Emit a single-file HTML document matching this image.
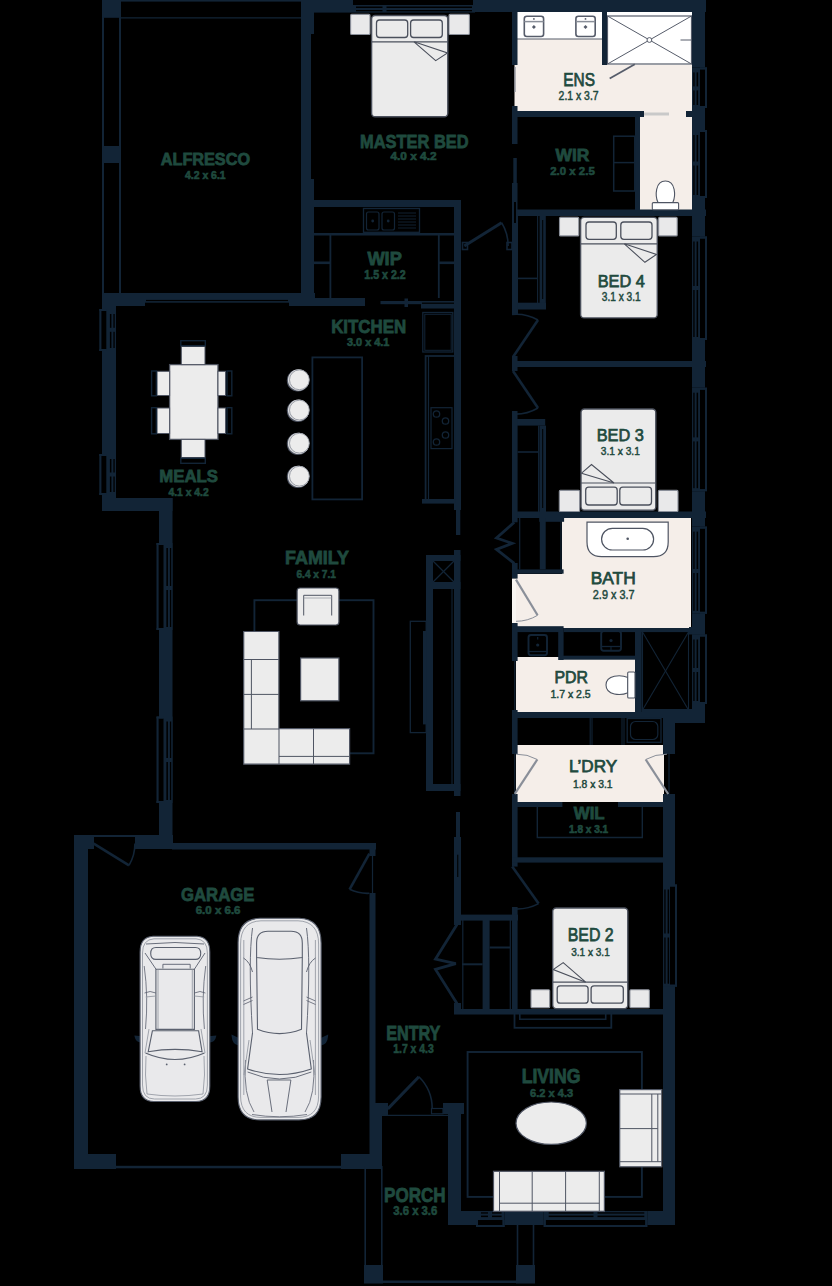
<!DOCTYPE html>
<html><head><meta charset="utf-8"><style>
html,body{margin:0;padding:0;background:#000;}
svg{display:block;font-family:"Liberation Sans",sans-serif;}
</style></head><body>
<svg width="832" height="1286" viewBox="0 0 832 1286">
<rect x="0" y="0" width="832" height="1286" fill="#000"/>
<rect x="517" y="12" width="175" height="100" fill="#f5eee9" />
<rect x="640" y="112" width="52" height="98" fill="#f5eee9" />
<path d="M562,518 H691 V628 H516 V574 H562 Z" fill="#f5eee9"/>
<rect x="516" y="657" width="120" height="55" fill="#f5eee9" />
<rect x="516" y="745" width="148" height="57" fill="#f5eee9" />
<rect x="517" y="12" width="85" height="27" fill="#ffffff" />
<line x1="517" y1="39" x2="602" y2="39" stroke="#565c6a" stroke-width="1.2"/>
<rect x="524.3" y="16.3" width="19.3" height="20.2" rx="2.5" fill="#ffffff" stroke="#565c6a" stroke-width="1.6" />
<line x1="524.3" y1="21.6" x2="543.5999999999999" y2="21.6" stroke="#8a8f99" stroke-width="1.5"/>
<circle cx="533.9" cy="18.9" r="0.9" fill="#565c6a"/>
<rect x="532.5" y="25.7" width="2.8" height="2.8" fill="#565c6a" transform="rotate(45 533.9 27.1)"/>
<rect x="575.9" y="16.3" width="19.3" height="20.2" rx="2.5" fill="#ffffff" stroke="#565c6a" stroke-width="1.6" />
<line x1="575.9" y1="21.6" x2="595.1999999999999" y2="21.6" stroke="#8a8f99" stroke-width="1.5"/>
<circle cx="585.5" cy="18.9" r="0.9" fill="#565c6a"/>
<rect x="584.1" y="25.7" width="2.8" height="2.8" fill="#565c6a" transform="rotate(45 585.5 27.1)"/>
<rect x="607" y="12" width="85" height="53" fill="#ffffff" />
<rect x="607.5" y="16" width="84.0" height="48" rx="0" fill="none" stroke="#565c6a" stroke-width="1.2" />
<line x1="607.5" y1="16" x2="691.5" y2="64" stroke="#565c6a" stroke-width="1"/>
<line x1="607.5" y1="64" x2="691.5" y2="16" stroke="#565c6a" stroke-width="1"/>
<circle cx="649.4" cy="40" r="2.4" fill="#fff" stroke="#565c6a" stroke-width="1"/>
<line x1="680.5" y1="40" x2="691" y2="40" stroke="#565c6a" stroke-width="1"/>
<line x1="609.7" y1="78.5" x2="634.8" y2="64.3" stroke="#565c6a" stroke-width="1.8"/>
<rect x="102" y="0" width="199" height="1.6" fill="#122436" />
<line x1="121" y1="17.8" x2="301" y2="17.8" stroke="#122436" stroke-width="1.3"/>
<line x1="103" y1="0" x2="103" y2="293" stroke="#122436" stroke-width="2"/>
<line x1="120" y1="17" x2="120" y2="293" stroke="#122436" stroke-width="2"/>
<rect x="102" y="0" width="19" height="17.8" fill="#122436" />
<rect x="102" y="146" width="19" height="17" fill="#122436" />
<rect x="301" y="0" width="50" height="12.6" fill="#122436" />
<rect x="351" y="0" width="124" height="12.6" fill="#122436" />
<rect x="353" y="0" width="120" height="5" fill="#000" />
<rect x="351" y="-2" width="124" height="2" fill="#122436" />
<rect x="351" y="-2" width="2" height="7" fill="#122436" />
<rect x="473" y="-2" width="2" height="7" fill="#122436" />
<rect x="356" y="10.0" width="26.5" height="1.3" fill="#000" />
<rect x="356" y="6.5" width="26.5" height="1.5" fill="#000" />
<rect x="386.5" y="10.0" width="85.5" height="1.3" fill="#000" />
<rect x="386.5" y="6.5" width="85.5" height="1.5" fill="#000" />
<rect x="475" y="0" width="231" height="12" fill="#122436" />
<rect x="301" y="12" width="13" height="22" fill="#122436" />
<rect x="301" y="12" width="10" height="168" fill="#122436" />
<rect x="301" y="179" width="13" height="121" fill="#122436" />
<rect x="102" y="293" width="43" height="13" fill="#122436" />
<rect x="289" y="293" width="26" height="13" fill="#122436" />
<rect x="145" y="293" width="144" height="9.7" fill="#122436" />
<rect x="146" y="299.9" width="142" height="1.2" fill="#000" />
<rect x="102" y="293" width="14" height="218" fill="#122436" />
<rect x="101.3" y="309" width="14.7" height="42" fill="#122436" />
<rect x="101.3" y="311" width="5.0" height="38" fill="#000" />
<rect x="99.3" y="309" width="2.0" height="42" fill="#122436" />
<rect x="99.3" y="309" width="7.0" height="2" fill="#122436" />
<rect x="99.3" y="349" width="7.0" height="2" fill="#122436" />
<rect x="113.4" y="314" width="1.3" height="13.8" fill="#000" />
<rect x="109.9" y="314" width="1.5" height="13.8" fill="#000" />
<rect x="113.4" y="331.8" width="1.3" height="16.2" fill="#000" />
<rect x="109.9" y="331.8" width="1.5" height="16.2" fill="#000" />
<rect x="101.3" y="454" width="14.7" height="41" fill="#122436" />
<rect x="101.3" y="456" width="5.0" height="37" fill="#000" />
<rect x="99.3" y="454" width="2.0" height="41" fill="#122436" />
<rect x="99.3" y="454" width="7.0" height="2" fill="#122436" />
<rect x="99.3" y="493" width="7.0" height="2" fill="#122436" />
<rect x="113.4" y="459" width="1.3" height="13.5" fill="#000" />
<rect x="109.9" y="459" width="1.5" height="13.5" fill="#000" />
<rect x="113.4" y="476.5" width="1.3" height="15.5" fill="#000" />
<rect x="109.9" y="476.5" width="1.5" height="15.5" fill="#000" />
<rect x="102" y="498" width="70.5" height="13" fill="#122436" />
<rect x="159" y="498" width="13.5" height="351" fill="#122436" />
<rect x="158.5" y="543" width="14.0" height="87" fill="#122436" />
<rect x="158.5" y="545" width="5.0" height="83" fill="#000" />
<rect x="156.5" y="543" width="2.0" height="87" fill="#122436" />
<rect x="156.5" y="543" width="7.0" height="2" fill="#122436" />
<rect x="156.5" y="628" width="7.0" height="2" fill="#122436" />
<rect x="169.9" y="548" width="1.3" height="38" fill="#000" />
<rect x="166.4" y="548" width="1.5" height="38" fill="#000" />
<rect x="169.9" y="590" width="1.3" height="37" fill="#000" />
<rect x="166.4" y="590" width="1.5" height="37" fill="#000" />
<rect x="158.5" y="716.5" width="14.0" height="86.5" fill="#122436" />
<rect x="158.5" y="718.5" width="5.0" height="82.5" fill="#000" />
<rect x="156.5" y="716.5" width="2.0" height="86.5" fill="#122436" />
<rect x="156.5" y="716.5" width="7.0" height="2.0" fill="#122436" />
<rect x="156.5" y="801" width="7.0" height="2" fill="#122436" />
<rect x="169.9" y="721.5" width="1.3" height="36.5" fill="#000" />
<rect x="166.4" y="721.5" width="1.5" height="36.5" fill="#000" />
<rect x="169.9" y="762" width="1.3" height="38" fill="#000" />
<rect x="166.4" y="762" width="1.5" height="38" fill="#000" />
<rect x="512" y="12" width="5.5" height="53" fill="#122436" />
<rect x="512" y="106" width="5.5" height="38" fill="#122436" />
<rect x="514.5" y="65" width="3.0" height="41" fill="#f5eee9" />
<line x1="515" y1="67" x2="515" y2="92" stroke="#8a8f99" stroke-width="1.3"/>
<rect x="513.3" y="158" width="3.5" height="25" fill="#122436" />
<rect x="512" y="183" width="5.5" height="33" fill="#122436" />
<rect x="512" y="111" width="132" height="6" fill="#122436" />
<rect x="644" y="112.5" width="25" height="3.0" fill="#c9c9c9" />
<rect x="686" y="111" width="6" height="6" fill="#122436" />
<rect x="602" y="12" width="5" height="53" fill="#122436" />
<rect x="635" y="117" width="5" height="93" fill="#122436" />
<rect x="512" y="209.5" width="194" height="6.5" fill="#122436" />
<rect x="692" y="0" width="13" height="67.4" fill="#122436" />
<rect x="692" y="67.4" width="13" height="40.6" fill="#122436" />
<rect x="700" y="69.4" width="5" height="36.6" fill="#000" />
<rect x="705" y="67.4" width="2" height="40.6" fill="#122436" />
<rect x="700" y="67.4" width="7" height="2.0" fill="#122436" />
<rect x="700" y="106" width="7" height="2" fill="#122436" />
<rect x="693.3" y="72.4" width="1.3" height="14.0" fill="#000" />
<rect x="696.6" y="72.4" width="1.5" height="14.0" fill="#000" />
<rect x="693.3" y="90.4" width="1.3" height="14.6" fill="#000" />
<rect x="696.6" y="90.4" width="1.5" height="14.6" fill="#000" />
<rect x="692" y="107" width="13" height="23" fill="#122436" />
<rect x="692" y="130" width="13" height="68" fill="#122436" />
<rect x="700" y="132" width="5" height="64" fill="#000" />
<rect x="705" y="130" width="2" height="68" fill="#122436" />
<rect x="700" y="130" width="7" height="2" fill="#122436" />
<rect x="700" y="196" width="7" height="2" fill="#122436" />
<rect x="693.3" y="135" width="1.3" height="26.5" fill="#000" />
<rect x="696.6" y="135" width="1.5" height="26.5" fill="#000" />
<rect x="693.3" y="165.5" width="1.3" height="29.5" fill="#000" />
<rect x="696.6" y="165.5" width="1.5" height="29.5" fill="#000" />
<rect x="692" y="198" width="13" height="38.5" fill="#122436" />
<rect x="692" y="236.5" width="13" height="103.5" fill="#122436" />
<rect x="700" y="238.5" width="5" height="99.5" fill="#000" />
<rect x="705" y="236.5" width="2" height="103.5" fill="#122436" />
<rect x="700" y="236.5" width="7" height="2.0" fill="#122436" />
<rect x="700" y="338" width="7" height="2" fill="#122436" />
<rect x="693.3" y="241.5" width="1.3" height="44.5" fill="#000" />
<rect x="696.6" y="241.5" width="1.5" height="44.5" fill="#000" />
<rect x="693.3" y="290" width="1.3" height="47" fill="#000" />
<rect x="696.6" y="290" width="1.5" height="47" fill="#000" />
<rect x="692" y="340" width="13" height="47.7" fill="#122436" />
<rect x="692" y="387.7" width="13" height="103.5" fill="#122436" />
<rect x="700" y="389.7" width="5" height="99.5" fill="#000" />
<rect x="705" y="387.7" width="2" height="103.5" fill="#122436" />
<rect x="700" y="387.7" width="7" height="2.0" fill="#122436" />
<rect x="700" y="489.2" width="7" height="2.0" fill="#122436" />
<rect x="693.3" y="392.7" width="1.3" height="44.7" fill="#000" />
<rect x="696.6" y="392.7" width="1.5" height="44.7" fill="#000" />
<rect x="693.3" y="441.4" width="1.3" height="46.8" fill="#000" />
<rect x="696.6" y="441.4" width="1.5" height="46.8" fill="#000" />
<rect x="692" y="491.2" width="13" height="35.4" fill="#122436" />
<rect x="692" y="526.6" width="13" height="87.2" fill="#122436" />
<rect x="700" y="528.6" width="5" height="83.2" fill="#000" />
<rect x="705" y="526.6" width="2" height="87.2" fill="#122436" />
<rect x="700" y="526.6" width="7" height="2.0" fill="#122436" />
<rect x="700" y="611.8" width="7" height="2.0" fill="#122436" />
<rect x="693.3" y="531.6" width="1.3" height="37.4" fill="#000" />
<rect x="696.6" y="531.6" width="1.5" height="37.4" fill="#000" />
<rect x="693.3" y="573" width="1.3" height="37.8" fill="#000" />
<rect x="696.6" y="573" width="1.5" height="37.8" fill="#000" />
<rect x="692" y="613.8" width="13" height="20.7" fill="#122436" />
<rect x="692" y="634.5" width="13" height="69.5" fill="#122436" />
<rect x="700" y="636.5" width="5" height="65.5" fill="#000" />
<rect x="705" y="634.5" width="2" height="69.5" fill="#122436" />
<rect x="700" y="634.5" width="7" height="2.0" fill="#122436" />
<rect x="700" y="702" width="7" height="2" fill="#122436" />
<rect x="693.3" y="639.5" width="1.3" height="28.5" fill="#000" />
<rect x="696.6" y="639.5" width="1.5" height="28.5" fill="#000" />
<rect x="693.3" y="672" width="1.3" height="29" fill="#000" />
<rect x="696.6" y="672" width="1.5" height="29" fill="#000" />
<rect x="689" y="627" width="16" height="7.5" fill="#122436" />
<rect x="692" y="704" width="13" height="19" fill="#122436" />
<rect x="663" y="710" width="42" height="13" fill="#122436" />
<rect x="311" y="200" width="150" height="7" fill="#122436" />
<rect x="454" y="200" width="7" height="310" fill="#122436" />
<rect x="456" y="509" width="4.3" height="26" fill="#122436" />
<rect x="311" y="298" width="54" height="8" fill="#122436" />
<rect x="421" y="301" width="40" height="7.5" fill="#122436" />
<rect x="422" y="302.6" width="32" height="1.2" fill="#000" />
<rect x="380.5" y="301" width="41.1" height="3.2" fill="#122436" />
<rect x="404.5" y="298.5" width="3.5" height="8.5" fill="#122436" />
<rect x="512" y="216" width="6" height="98" fill="#122436" />
<rect x="514" y="361" width="192" height="6" fill="#122436" />
<rect x="512" y="511.5" width="194" height="6.5" fill="#122436" />
<rect x="539.2" y="512" width="24.9" height="9.8" fill="#122436" />
<rect x="512" y="512" width="5.6" height="10.3" fill="#122436" />
<rect x="512" y="563" width="5.6" height="15.6" fill="#122436" />
<line x1="519.7" y1="518" x2="519.7" y2="569.4" stroke="#122436" stroke-width="1.2"/>
<rect x="539.8" y="518" width="5.9" height="51.4" fill="#122436" />
<rect x="512" y="569.4" width="51.6" height="4.3" fill="#122436" />
<line x1="561" y1="518" x2="561" y2="570" stroke="#122436" stroke-width="1.2"/>
<rect x="512" y="578.6" width="4" height="44.4" fill="#f8f5f1" />
<rect x="512" y="623" width="5.6" height="9" fill="#122436" />
<rect x="512" y="626.2" width="51.6" height="5.9" fill="#122436" />
<rect x="563.6" y="628" width="128.4" height="4.1" fill="#122436" />
<rect x="512" y="632" width="5.6" height="29" fill="#122436" />
<line x1="514.8" y1="661" x2="514.8" y2="710" stroke="#122436" stroke-width="1.2"/>
<rect x="512" y="710" width="5.6" height="8" fill="#122436" />
<rect x="558.2" y="632" width="5.4" height="28" fill="#122436" />
<rect x="562" y="655.7" width="74" height="4.0" fill="#122436" />
<rect x="635" y="628" width="6.7" height="90" fill="#122436" />
<line x1="642.5" y1="632" x2="688.5" y2="710" stroke="#122436" stroke-width="1.1"/>
<line x1="688.5" y1="632" x2="642.5" y2="710" stroke="#122436" stroke-width="1.1"/>
<line x1="642.5" y1="632" x2="642.5" y2="710" stroke="#122436" stroke-width="1.1"/>
<line x1="688.5" y1="632" x2="688.5" y2="710" stroke="#122436" stroke-width="1.1"/>
<rect x="641.7" y="709" width="50.3" height="7" fill="#122436" />
<rect x="512" y="712" width="163" height="6" fill="#122436" />
<rect x="512" y="718" width="5.6" height="36" fill="#122436" />
<line x1="514.8" y1="754" x2="514.8" y2="794" stroke="#122436" stroke-width="1.2"/>
<rect x="512" y="794" width="5.6" height="72.6" fill="#122436" />
<rect x="663" y="718" width="12" height="36" fill="#122436" />
<line x1="669" y1="754" x2="669" y2="794" stroke="#122436" stroke-width="1.2"/>
<rect x="663" y="794" width="12" height="431" fill="#122436" />
<rect x="512" y="802" width="50.4" height="5" fill="#122436" />
<rect x="618" y="802" width="57" height="5" fill="#122436" />
<path d="M537.3,807 V837.5 H642.3 V807" fill="none" stroke="#122436" stroke-width="1.4" />
<rect x="512" y="857.3" width="151" height="5.3" fill="#122436" />
<rect x="512" y="907" width="5.6" height="107" fill="#122436" />
<rect x="454" y="914.6" width="64" height="6.0" fill="#122436" />
<rect x="454" y="1003" width="7" height="11" fill="#122436" />
<rect x="482.6" y="920" width="7.0" height="89" fill="#122436" />
<line x1="462.8" y1="920" x2="462.8" y2="1009" stroke="#122436" stroke-width="1.2"/>
<line x1="510.3" y1="920" x2="510.3" y2="1009" stroke="#122436" stroke-width="1.2"/>
<line x1="462" y1="964.3" x2="482.6" y2="964.3" stroke="#122436" stroke-width="2"/>
<line x1="489.6" y1="947.5" x2="510" y2="947.5" stroke="#122436" stroke-width="2"/>
<rect x="454" y="1009" width="221" height="5.5" fill="#122436" />
<rect x="514.5" y="1013" width="96.8" height="14.8" rx="0" fill="none" stroke="#122436" stroke-width="1.8" />
<path d="M519.8,1014 V1019.2 H605.7 V1014" fill="none" stroke="#122436" stroke-width="1.6" />
<rect x="456" y="812" width="4" height="25.5" fill="#122436" />
<rect x="454" y="837" width="7" height="88" fill="#122436" />
<rect x="457.2" y="854.7" width="1.1" height="22.3" fill="#000" />
<rect x="426" y="555" width="7" height="236" fill="#122436" />
<rect x="454" y="550" width="6.5" height="246" fill="#122436" />
<rect x="426" y="555" width="34.5" height="6" fill="#122436" />
<rect x="426" y="582" width="34.5" height="7" fill="#122436" />
<rect x="426" y="784" width="34.5" height="7" fill="#122436" />
<line x1="433" y1="561" x2="454" y2="582" stroke="#122436" stroke-width="1.2"/>
<line x1="454" y1="561" x2="433" y2="582" stroke="#122436" stroke-width="1.2"/>
<line x1="452" y1="589" x2="452" y2="784" stroke="#122436" stroke-width="1.1"/>
<rect x="410.3" y="621.3" width="15.9" height="111.3" rx="0" fill="none" stroke="#122436" stroke-width="1.3" />
<rect x="423" y="631" width="3.5" height="93.4" fill="#122436" />
<rect x="74" y="835" width="14" height="334" fill="#122436" />
<rect x="74" y="835" width="20" height="14" fill="#122436" />
<rect x="94" y="835" width="41" height="2" fill="#122436" />
<rect x="135" y="835" width="38" height="14" fill="#122436" />
<rect x="172" y="843" width="204" height="6.5" fill="#122436" />
<rect x="369.5" y="843" width="6.0" height="13" fill="#122436" />
<line x1="372.5" y1="856" x2="372.5" y2="893" stroke="#122436" stroke-width="1.2"/>
<rect x="369.5" y="893" width="6.0" height="210" fill="#122436" />
<rect x="369.5" y="1103" width="12.5" height="63" fill="#122436" />
<rect x="375.5" y="1103" width="12.5" height="12" fill="#122436" />
<rect x="74" y="1154" width="42" height="15" fill="#122436" />
<rect x="341" y="1154" width="41" height="15" fill="#122436" />
<rect x="116" y="1165.8" width="225" height="2.5" fill="#122436" />
<rect x="443" y="1103" width="21" height="11" fill="#122436" />
<rect x="431.5" y="1108.5" width="11.5" height="5.3" rx="0" fill="none" stroke="#122436" stroke-width="1.2" />
<rect x="448" y="1103" width="13" height="122" fill="#122436" />
<line x1="382" y1="1115.3" x2="449" y2="1115.3" stroke="#122436" stroke-width="1.2"/>
<line x1="365.2" y1="1166" x2="365.2" y2="1266" stroke="#122436" stroke-width="1.6"/>
<line x1="381.8" y1="1166" x2="381.8" y2="1266" stroke="#122436" stroke-width="1.6"/>
<rect x="364" y="1265" width="19" height="18.5" fill="#122436" />
<rect x="382" y="1280.5" width="135" height="2.5" fill="#122436" />
<line x1="517.5" y1="1225" x2="517.5" y2="1266" stroke="#122436" stroke-width="1.6"/>
<line x1="533.5" y1="1225" x2="533.5" y2="1266" stroke="#122436" stroke-width="1.6"/>
<rect x="516" y="1265" width="19" height="18.5" fill="#122436" />
<rect x="448" y="1211" width="28" height="14" fill="#122436" />
<rect x="476" y="1211" width="28.6" height="14" fill="#122436" />
<rect x="478" y="1220" width="24.6" height="5" fill="#000" />
<rect x="476" y="1225" width="28.6" height="2" fill="#122436" />
<rect x="476" y="1220" width="2" height="7" fill="#122436" />
<rect x="502.6" y="1220" width="2.0" height="7" fill="#122436" />
<rect x="481" y="1212.3" width="7" height="1.3" fill="#000" />
<rect x="481" y="1215.6" width="7" height="1.5" fill="#000" />
<rect x="492" y="1212.3" width="9.6" height="1.3" fill="#000" />
<rect x="492" y="1215.6" width="9.6" height="1.5" fill="#000" />
<rect x="504.6" y="1211" width="39.1" height="14" fill="#122436" />
<rect x="543.7" y="1211" width="103.6" height="14" fill="#122436" />
<rect x="545.7" y="1220" width="99.6" height="5" fill="#000" />
<rect x="543.7" y="1225" width="103.6" height="2" fill="#122436" />
<rect x="543.7" y="1220" width="2.0" height="7" fill="#122436" />
<rect x="645.3" y="1220" width="2.0" height="7" fill="#122436" />
<rect x="548.7" y="1212.3" width="44.8" height="1.3" fill="#000" />
<rect x="548.7" y="1215.6" width="44.8" height="1.5" fill="#000" />
<rect x="597.5" y="1212.3" width="46.8" height="1.3" fill="#000" />
<rect x="597.5" y="1215.6" width="46.8" height="1.5" fill="#000" />
<rect x="647.3" y="1211" width="27.7" height="14" fill="#122436" />
<rect x="350.6" y="14.4" width="19.4" height="20.1" rx="1" fill="#e9e9ea" stroke="#8a8f99" stroke-width="1.1" />
<rect x="449" y="14.4" width="20.4" height="20.1" rx="1" fill="#e9e9ea" stroke="#8a8f99" stroke-width="1.1" />
<rect x="371.6" y="15.5" width="76.2" height="101.3" rx="3.5" fill="#ebebeb" stroke="#4b505c" stroke-width="1.4" />
<rect x="376.5" y="20" width="31.2" height="17.5" rx="3" fill="#ebebeb" stroke="#4b505c" stroke-width="1.3" />
<rect x="410.6" y="20" width="31.7" height="17.5" rx="3" fill="#ebebeb" stroke="#4b505c" stroke-width="1.3" />
<line x1="371.6" y1="41.8" x2="447.8" y2="41.8" stroke="#4b505c" stroke-width="1.2"/>
<polygon points="414,41.8 447.5,53 435.7,60.6" fill="#ebebeb" stroke="#4b505c" stroke-width="1.1"/>
<rect x="559.5" y="217.4" width="19.3" height="18.5" rx="1" fill="#e9e9ea" stroke="#8a8f99" stroke-width="1.1" />
<rect x="658.6" y="217.4" width="18.6" height="18.5" rx="1" fill="#e9e9ea" stroke="#8a8f99" stroke-width="1.1" />
<rect x="580.6" y="217.4" width="76.7" height="100.5" rx="3.5" fill="#ebebeb" stroke="#4b505c" stroke-width="1.4" />
<rect x="586" y="222" width="30.3" height="17.3" rx="3" fill="#ebebeb" stroke="#4b505c" stroke-width="1.3" />
<rect x="620.8" y="222" width="31.2" height="17.3" rx="3" fill="#ebebeb" stroke="#4b505c" stroke-width="1.3" />
<line x1="580.6" y1="243.8" x2="657.3" y2="243.8" stroke="#4b505c" stroke-width="1.2"/>
<polygon points="624.3,243.8 656.5,254.4 644.9,262.3" fill="#ebebeb" stroke="#4b505c" stroke-width="1.1"/>
<rect x="559.3" y="490.4" width="20.3" height="21.1" rx="1" fill="#e9e9ea" stroke="#8a8f99" stroke-width="1.1" />
<rect x="658.4" y="490.4" width="19.6" height="21.1" rx="1" fill="#e9e9ea" stroke="#8a8f99" stroke-width="1.1" />
<rect x="581" y="409" width="74.8" height="101.2" rx="3.5" fill="#ebebeb" stroke="#4b505c" stroke-width="1.4" />
<rect x="585.7" y="487.2" width="31.5" height="17.8" rx="3" fill="#ebebeb" stroke="#4b505c" stroke-width="1.3" />
<rect x="619.8" y="487.2" width="31.7" height="17.8" rx="3" fill="#ebebeb" stroke="#4b505c" stroke-width="1.3" />
<line x1="581" y1="483" x2="655.8" y2="483" stroke="#4b505c" stroke-width="1.2"/>
<polygon points="614,483 581.5,473.2 591.5,464.5" fill="#ebebeb" stroke="#4b505c" stroke-width="1.1"/>
<rect x="531" y="989.7" width="18.7" height="18.0" rx="1" fill="#e9e9ea" stroke="#8a8f99" stroke-width="1.1" />
<rect x="629.9" y="989.7" width="19.5" height="18.0" rx="1" fill="#e9e9ea" stroke="#8a8f99" stroke-width="1.1" />
<rect x="552.7" y="908" width="75.1" height="100.6" rx="3.5" fill="#ebebeb" stroke="#4b505c" stroke-width="1.4" />
<rect x="557.2" y="985.8" width="30.9" height="17.4" rx="3" fill="#ebebeb" stroke="#4b505c" stroke-width="1.3" />
<rect x="591.1" y="985.8" width="32.2" height="17.4" rx="3" fill="#ebebeb" stroke="#4b505c" stroke-width="1.3" />
<line x1="552.7" y1="982.2" x2="627.8" y2="982.2" stroke="#4b505c" stroke-width="1.2"/>
<polygon points="585.7,982.2 553.2,969.5 563.2,962.6" fill="#ebebeb" stroke="#4b505c" stroke-width="1.1"/>
<rect x="169.6" y="364.6" width="48.4" height="74.8" rx="0" fill="#ececec" stroke="#4b505c" stroke-width="1.3" />
<rect x="181.3" y="346.5" width="23.7" height="18.1" rx="0" fill="#ececec" stroke="#4f5563" stroke-width="1.0" />
<rect x="181.3" y="439.4" width="23.7" height="18.1" rx="0" fill="#ececec" stroke="#4f5563" stroke-width="1.0" />
<rect x="157" y="371.3" width="12.6" height="24.2" rx="0" fill="#ececec" stroke="#4f5563" stroke-width="1.0" />
<rect x="157" y="408" width="12.6" height="25.5" rx="0" fill="#ececec" stroke="#4f5563" stroke-width="1.0" />
<rect x="218" y="371.3" width="7.5" height="24.2" rx="0" fill="#ececec" stroke="#4f5563" stroke-width="1.0" />
<rect x="218" y="408" width="7.5" height="25.5" rx="0" fill="#ececec" stroke="#4f5563" stroke-width="1.0" />
<rect x="180.8" y="340.7" width="24.5" height="5.0" rx="0" fill="none" stroke="#122436" stroke-width="1.4" />
<rect x="180.8" y="458.3" width="24.5" height="5.0" rx="0" fill="none" stroke="#122436" stroke-width="1.4" />
<rect x="151.6" y="371" width="4.8" height="24.8" rx="0" fill="none" stroke="#122436" stroke-width="1.4" />
<rect x="151.6" y="407.7" width="4.8" height="26.1" rx="0" fill="none" stroke="#122436" stroke-width="1.4" />
<rect x="227" y="371" width="4.8" height="24.8" rx="0" fill="none" stroke="#122436" stroke-width="1.4" />
<rect x="227" y="407.7" width="4.8" height="26.1" rx="0" fill="none" stroke="#122436" stroke-width="1.4" />
<circle cx="297.9" cy="380.5" r="11.1" fill="#4f5563"/>
<circle cx="298.6" cy="380" r="10.7" fill="#d9dadd"/>
<circle cx="299.4" cy="379.8" r="9.9" fill="#ececec" stroke="#8a8f99" stroke-width="0.8"/>
<circle cx="297.9" cy="410.8" r="11.1" fill="#4f5563"/>
<circle cx="298.6" cy="410.3" r="10.7" fill="#d9dadd"/>
<circle cx="299.4" cy="410.1" r="9.9" fill="#ececec" stroke="#8a8f99" stroke-width="0.8"/>
<circle cx="297.9" cy="443.9" r="11.1" fill="#4f5563"/>
<circle cx="298.6" cy="443.4" r="10.7" fill="#d9dadd"/>
<circle cx="299.4" cy="443.2" r="9.9" fill="#ececec" stroke="#8a8f99" stroke-width="0.8"/>
<circle cx="297.9" cy="476.9" r="11.1" fill="#4f5563"/>
<circle cx="298.6" cy="476.4" r="10.7" fill="#d9dadd"/>
<circle cx="299.4" cy="476.2" r="9.9" fill="#ececec" stroke="#8a8f99" stroke-width="0.8"/>
<rect x="312.4" y="357.4" width="49.7" height="142.0" rx="0" fill="none" stroke="#122436" stroke-width="1.8" />
<rect x="422.8" y="312.5" width="30.0" height="39.5" rx="0" fill="none" stroke="#122436" stroke-width="1.3" />
<rect x="424.8" y="314.3" width="26.4" height="36.0" rx="0" fill="none" stroke="#122436" stroke-width="1.0" />
<rect x="425.6" y="356" width="29.4" height="145.5" rx="0" fill="none" stroke="#122436" stroke-width="1.8" />
<line x1="428.5" y1="356" x2="428.5" y2="500" stroke="#122436" stroke-width="1.2"/>
<rect x="431" y="407.7" width="21" height="40.9" rx="0" fill="none" stroke="#122436" stroke-width="1.2" />
<circle cx="436.5" cy="414" r="3.2" fill="none" stroke="#122436" stroke-width="1.3"/>
<circle cx="445.5" cy="421" r="3.2" fill="none" stroke="#122436" stroke-width="1.3"/>
<circle cx="445.5" cy="435" r="3.2" fill="none" stroke="#122436" stroke-width="1.3"/>
<circle cx="436.5" cy="442" r="3.2" fill="none" stroke="#122436" stroke-width="1.3"/>
<rect x="422" y="499" width="33" height="4.6" fill="#122436" />
<line x1="314" y1="234.3" x2="455" y2="234.3" stroke="#122436" stroke-width="2.6"/>
<rect x="363.5" y="208.5" width="56.0" height="23.8" rx="0" fill="none" stroke="#122436" stroke-width="1.3" />
<rect x="366.5" y="212" width="12.5" height="18" rx="2" fill="none" stroke="#122436" stroke-width="1.2" />
<rect x="382" y="212" width="12.5" height="18" rx="2" fill="none" stroke="#122436" stroke-width="1.2" />
<circle cx="372.7" cy="221" r="1.4" fill="#122436"/><circle cx="388.2" cy="221" r="1.4" fill="#122436"/>
<line x1="398" y1="213" x2="416" y2="213" stroke="#122436" stroke-width="0.9"/>
<line x1="398" y1="216" x2="416" y2="216" stroke="#122436" stroke-width="0.9"/>
<line x1="398" y1="219" x2="416" y2="219" stroke="#122436" stroke-width="0.9"/>
<line x1="398" y1="222" x2="416" y2="222" stroke="#122436" stroke-width="0.9"/>
<line x1="398" y1="225" x2="416" y2="225" stroke="#122436" stroke-width="0.9"/>
<line x1="398" y1="228" x2="416" y2="228" stroke="#122436" stroke-width="0.9"/>
<line x1="330.4" y1="233.6" x2="330.4" y2="298" stroke="#122436" stroke-width="1.8"/>
<line x1="314" y1="262.8" x2="330.4" y2="262.8" stroke="#122436" stroke-width="2.6"/>
<line x1="438.8" y1="233.6" x2="438.8" y2="298" stroke="#122436" stroke-width="1.8"/>
<line x1="438.8" y1="262.8" x2="455" y2="262.8" stroke="#122436" stroke-width="2.6"/>
<rect x="254.4" y="600.2" width="119.1" height="153.1" rx="0" fill="none" stroke="#122436" stroke-width="1.9" />
<rect x="297.1" y="588" width="41.8" height="37" rx="3" fill="#ececec" stroke="#4f5563" stroke-width="1.2" />
<line x1="303.7" y1="595.3" x2="331.7" y2="595.3" stroke="#4f5563" stroke-width="1.0"/>
<line x1="303.7" y1="595.3" x2="303.7" y2="615.5" stroke="#4f5563" stroke-width="1.0"/>
<line x1="331.7" y1="595.3" x2="331.7" y2="615.5" stroke="#4f5563" stroke-width="1.0"/>
<line x1="303.7" y1="598" x2="331.7" y2="598" stroke="#9a9ea6" stroke-width="0.8"/>
<path d="M243.7,631.5 H278.9 V728.7 H349.6 V764.2 H243.7 Z" fill="#ececec" stroke="#4f5563" stroke-width="1.2"/>
<line x1="243.7" y1="659.5" x2="278.9" y2="659.5" stroke="#4f5563" stroke-width="1.0"/>
<line x1="243.7" y1="694.4" x2="278.9" y2="694.4" stroke="#4f5563" stroke-width="1.0"/>
<line x1="243.7" y1="729" x2="278.9" y2="729" stroke="#4f5563" stroke-width="1.0"/>
<line x1="251.4" y1="659.5" x2="251.4" y2="729" stroke="#4f5563" stroke-width="1.0"/>
<line x1="279" y1="729" x2="279" y2="764.2" stroke="#4f5563" stroke-width="1.0"/>
<line x1="313.5" y1="729" x2="313.5" y2="764.2" stroke="#4f5563" stroke-width="1.0"/>
<line x1="279" y1="756.4" x2="349.6" y2="756.4" stroke="#4f5563" stroke-width="1.0"/>
<rect x="300.6" y="658" width="38.3" height="42.8" rx="0" fill="#ececec" stroke="#4f5563" stroke-width="1.2" />
<rect x="467.6" y="1052" width="174.3" height="144.9" rx="0" fill="none" stroke="#122436" stroke-width="1.9" />
<ellipse cx="551.2" cy="1123.2" rx="35.2" ry="21.2" fill="#ececec" stroke="#4f5563" stroke-width="1.2"/>
<rect x="493.5" y="1171.3" width="110.9" height="40.0" rx="0" fill="#ececec" stroke="#4f5563" stroke-width="1.2" />
<line x1="499.5" y1="1171.3" x2="499.5" y2="1211.3" stroke="#4f5563" stroke-width="1.0"/>
<line x1="599.3" y1="1171.3" x2="599.3" y2="1211.3" stroke="#4f5563" stroke-width="1.0"/>
<line x1="532.2" y1="1171.3" x2="532.2" y2="1211.3" stroke="#4f5563" stroke-width="1.0"/>
<line x1="565.6" y1="1171.3" x2="565.6" y2="1211.3" stroke="#4f5563" stroke-width="1.0"/>
<line x1="499.5" y1="1203.2" x2="599.3" y2="1203.2" stroke="#4f5563" stroke-width="1.0"/>
<rect x="619.7" y="1089.6" width="42.1" height="77.2" rx="0" fill="#ececec" stroke="#4f5563" stroke-width="1.2" />
<line x1="619.7" y1="1094" x2="661.8" y2="1094" stroke="#4f5563" stroke-width="1.0"/>
<line x1="619.7" y1="1161.7" x2="661.8" y2="1161.7" stroke="#4f5563" stroke-width="1.0"/>
<line x1="651.8" y1="1094" x2="651.8" y2="1161.7" stroke="#4f5563" stroke-width="1.0"/>
<line x1="657.8" y1="1094" x2="657.8" y2="1161.7" stroke="#4f5563" stroke-width="1.0"/>
<line x1="619.7" y1="1128.6" x2="657.8" y2="1128.6" stroke="#4f5563" stroke-width="1.0"/>
<path d="M587,522.2 H668.2 V542 Q668.2,556.6 653.6,556.6 H601.6 Q587,556.6 587,542 Z" fill="#fff" stroke="#4f5563" stroke-width="1.2"/>
<rect x="601.6" y="528.3" width="52.0" height="21.7" rx="10.8" fill="#fff" stroke="#4f5563" stroke-width="1.2" />
<circle cx="627.7" cy="538.8" r="1.3" fill="#4f5563"/>
<path d="M658,202.6 C655,196 655,181 665.4,181 C675.8,181 675.8,196 672.8,202.6 Z" fill="#fff" stroke="#4f5563" stroke-width="1.1"/>
<rect x="652.3" y="202.6" width="26.3" height="7.2" rx="1" fill="#fff" stroke="#4f5563" stroke-width="1.1" />
<path d="M628,677.5 C621,674.5 606,674.5 606,685.1 C606,695.7 621,695.7 628,692.7 Z" fill="#fff" stroke="#4f5563" stroke-width="1.1"/>
<rect x="627.7" y="672" width="7.3" height="26" rx="1" fill="#fff" stroke="#4f5563" stroke-width="1.1" />
<rect x="528.5" y="635" width="18.5" height="20.3" rx="2.5" fill="none" stroke="#122436" stroke-width="1.9" />
<line x1="528.5" y1="651.5" x2="547" y2="651.5" stroke="#122436" stroke-width="1.3"/>
<circle cx="537.7" cy="645" r="1.6" fill="#122436"/>
<line x1="537.7" y1="637" x2="537.7" y2="639.5" stroke="#122436" stroke-width="1.2"/>
<rect x="601.2" y="631" width="19.8" height="19.8" rx="2.5" fill="none" stroke="#122436" stroke-width="1.9" />
<line x1="601.2" y1="646.5" x2="621" y2="646.5" stroke="#122436" stroke-width="1.3"/>
<circle cx="611" cy="640.5" r="1.6" fill="#122436"/>
<line x1="611" y1="647" x2="611" y2="650" stroke="#122436" stroke-width="1.1"/>
<line x1="590.2" y1="718" x2="590.2" y2="745" stroke="#122436" stroke-width="1.1"/>
<line x1="592" y1="718" x2="592" y2="745" stroke="#122436" stroke-width="1.1"/>
<line x1="622" y1="718" x2="622" y2="745" stroke="#122436" stroke-width="1.1"/>
<line x1="624" y1="718" x2="624" y2="745" stroke="#122436" stroke-width="1.1"/>
<rect x="627.2" y="718.5" width="33.8" height="23.8" rx="0" fill="none" stroke="#122436" stroke-width="1.3" />
<rect x="630.5" y="721.5" width="27.3" height="18.0" rx="5" fill="none" stroke="#122436" stroke-width="1.2" />
<text x="205.4" y="165.3" font-size="16.8" text-anchor="middle" textLength="89.3" lengthAdjust="spacingAndGlyphs" fill="#1f4a3e" font-weight="bold" stroke="#1f4a3e" stroke-width="0.8">ALFRESCO</text>
<text x="205.3" y="179" font-size="10.2" text-anchor="middle" textLength="40.6" lengthAdjust="spacingAndGlyphs" fill="#1f4a3e" font-weight="bold" stroke="#1f4a3e" stroke-width="0.6">4.2 x 6.1</text>
<text x="414.3" y="147.6" font-size="18.9" text-anchor="middle" textLength="108.6" lengthAdjust="spacingAndGlyphs" fill="#1f4a3e" font-weight="bold" stroke="#1f4a3e" stroke-width="0.8">MASTER BED</text>
<text x="413.5" y="160.3" font-size="10.6" text-anchor="middle" textLength="46.2" lengthAdjust="spacingAndGlyphs" fill="#1f4a3e" font-weight="bold" stroke="#1f4a3e" stroke-width="0.6">4.0 x 4.2</text>
<text x="579.2" y="85.9" font-size="17.6" text-anchor="middle" textLength="31.7" lengthAdjust="spacingAndGlyphs" fill="#1f4a3e" font-weight="normal" stroke="#1f4a3e" stroke-width="0.75">ENS</text>
<text x="578.6" y="100" font-size="12" text-anchor="middle" textLength="40" lengthAdjust="spacingAndGlyphs" fill="#1f4a3e" font-weight="normal" stroke="#1f4a3e" stroke-width="0.5">2.1 x 3.7</text>
<text x="572.5" y="160.5" font-size="17.3" text-anchor="middle" textLength="33.9" lengthAdjust="spacingAndGlyphs" fill="#1f4a3e" font-weight="bold" stroke="#1f4a3e" stroke-width="0.8">WIR</text>
<text x="572.5" y="175" font-size="11.4" text-anchor="middle" textLength="44.5" lengthAdjust="spacingAndGlyphs" fill="#1f4a3e" font-weight="bold" stroke="#1f4a3e" stroke-width="0.6">2.0 x 2.5</text>
<text x="384.6" y="264.6" font-size="18" text-anchor="middle" textLength="34.4" lengthAdjust="spacingAndGlyphs" fill="#1f4a3e" font-weight="bold" stroke="#1f4a3e" stroke-width="0.8">WIP</text>
<text x="385" y="278.6" font-size="12" text-anchor="middle" textLength="41.5" lengthAdjust="spacingAndGlyphs" fill="#1f4a3e" font-weight="bold" stroke="#1f4a3e" stroke-width="0.6">1.5 x 2.2</text>
<text x="368.7" y="332.6" font-size="17.6" text-anchor="middle" textLength="75" lengthAdjust="spacingAndGlyphs" fill="#1f4a3e" font-weight="bold" stroke="#1f4a3e" stroke-width="0.8">KITCHEN</text>
<text x="368.2" y="346.3" font-size="10.6" text-anchor="middle" textLength="42.4" lengthAdjust="spacingAndGlyphs" fill="#1f4a3e" font-weight="bold" stroke="#1f4a3e" stroke-width="0.6">3.0 x 4.1</text>
<text x="188.6" y="481.7" font-size="17.3" text-anchor="middle" textLength="58.7" lengthAdjust="spacingAndGlyphs" fill="#1f4a3e" font-weight="bold" stroke="#1f4a3e" stroke-width="0.8">MEALS</text>
<text x="188.6" y="496.2" font-size="10.7" text-anchor="middle" textLength="40.2" lengthAdjust="spacingAndGlyphs" fill="#1f4a3e" font-weight="bold" stroke="#1f4a3e" stroke-width="0.6">4.1 x 4.2</text>
<text x="621.3" y="287.4" font-size="17.3" text-anchor="middle" textLength="47.1" lengthAdjust="spacingAndGlyphs" fill="#1f4a3e" font-weight="normal" stroke="#1f4a3e" stroke-width="0.75">BED 4</text>
<text x="621.2" y="301.2" font-size="12.2" text-anchor="middle" textLength="38.9" lengthAdjust="spacingAndGlyphs" fill="#1f4a3e" font-weight="normal" stroke="#1f4a3e" stroke-width="0.5">3.1 x 3.1</text>
<text x="620.3" y="441" font-size="17.3" text-anchor="middle" textLength="47.1" lengthAdjust="spacingAndGlyphs" fill="#1f4a3e" font-weight="normal" stroke="#1f4a3e" stroke-width="0.75">BED 3</text>
<text x="620.3" y="454.7" font-size="11.8" text-anchor="middle" textLength="39.1" lengthAdjust="spacingAndGlyphs" fill="#1f4a3e" font-weight="normal" stroke="#1f4a3e" stroke-width="0.5">3.1 x 3.1</text>
<text x="613.2" y="583.8" font-size="16.6" text-anchor="middle" textLength="45" lengthAdjust="spacingAndGlyphs" fill="#1f4a3e" font-weight="normal" stroke="#1f4a3e" stroke-width="0.75">BATH</text>
<text x="613.7" y="598.9" font-size="13" text-anchor="middle" textLength="41.8" lengthAdjust="spacingAndGlyphs" fill="#1f4a3e" font-weight="normal" stroke="#1f4a3e" stroke-width="0.5">2.9 x 3.7</text>
<text x="571.2" y="682.7" font-size="16.1" text-anchor="middle" textLength="33.5" lengthAdjust="spacingAndGlyphs" fill="#1f4a3e" font-weight="normal" stroke="#1f4a3e" stroke-width="0.75">PDR</text>
<text x="570.6" y="697.5" font-size="11.5" text-anchor="middle" textLength="40.2" lengthAdjust="spacingAndGlyphs" fill="#1f4a3e" font-weight="normal" stroke="#1f4a3e" stroke-width="0.5">1.7 x 2.5</text>
<text x="593.1" y="772" font-size="17" text-anchor="middle" textLength="48.2" lengthAdjust="spacingAndGlyphs" fill="#1f4a3e" font-weight="normal" stroke="#1f4a3e" stroke-width="0.75">L&#8217;DRY</text>
<text x="592.8" y="787.8" font-size="11.5" text-anchor="middle" textLength="39.7" lengthAdjust="spacingAndGlyphs" fill="#1f4a3e" font-weight="normal" stroke="#1f4a3e" stroke-width="0.5">1.8 x 3.1</text>
<text x="589.2" y="819" font-size="17.4" text-anchor="middle" textLength="30.9" lengthAdjust="spacingAndGlyphs" fill="#1f4a3e" font-weight="bold" stroke="#1f4a3e" stroke-width="0.8">WIL</text>
<text x="588.6" y="832.7" font-size="10.3" text-anchor="middle" textLength="39.2" lengthAdjust="spacingAndGlyphs" fill="#1f4a3e" font-weight="bold" stroke="#1f4a3e" stroke-width="0.6">1.8 x 3.1</text>
<text x="317" y="564.1" font-size="18.9" text-anchor="middle" textLength="64" lengthAdjust="spacingAndGlyphs" fill="#1f4a3e" font-weight="bold" stroke="#1f4a3e" stroke-width="0.8">FAMILY</text>
<text x="316.2" y="578" font-size="11.3" text-anchor="middle" textLength="39.5" lengthAdjust="spacingAndGlyphs" fill="#1f4a3e" font-weight="bold" stroke="#1f4a3e" stroke-width="0.6">6.4 x 7.1</text>
<text x="217.7" y="901.2" font-size="19" text-anchor="middle" textLength="73.4" lengthAdjust="spacingAndGlyphs" fill="#1f4a3e" font-weight="bold" stroke="#1f4a3e" stroke-width="0.8">GARAGE</text>
<text x="218.1" y="913.9" font-size="10.9" text-anchor="middle" textLength="44.8" lengthAdjust="spacingAndGlyphs" fill="#1f4a3e" font-weight="bold" stroke="#1f4a3e" stroke-width="0.6">6.0 x 6.6</text>
<text x="590.7" y="940.7" font-size="18.4" text-anchor="middle" textLength="46" lengthAdjust="spacingAndGlyphs" fill="#1f4a3e" font-weight="normal" stroke="#1f4a3e" stroke-width="0.75">BED 2</text>
<text x="590.5" y="955.7" font-size="11.7" text-anchor="middle" textLength="38.5" lengthAdjust="spacingAndGlyphs" fill="#1f4a3e" font-weight="normal" stroke="#1f4a3e" stroke-width="0.5">3.1 x 3.1</text>
<text x="413.3" y="1040" font-size="19.3" text-anchor="middle" textLength="54.2" lengthAdjust="spacingAndGlyphs" fill="#1f4a3e" font-weight="bold" stroke="#1f4a3e" stroke-width="0.8">ENTRY</text>
<text x="413.5" y="1052.9" font-size="12.3" text-anchor="middle" textLength="40.5" lengthAdjust="spacingAndGlyphs" fill="#1f4a3e" font-weight="bold" stroke="#1f4a3e" stroke-width="0.6">1.7 x 4.3</text>
<text x="551.1" y="1082.7" font-size="19.7" text-anchor="middle" textLength="58.9" lengthAdjust="spacingAndGlyphs" fill="#1f4a3e" font-weight="bold" stroke="#1f4a3e" stroke-width="0.8">LIVING</text>
<text x="551.6" y="1097" font-size="11.6" text-anchor="middle" textLength="43" lengthAdjust="spacingAndGlyphs" fill="#1f4a3e" font-weight="bold" stroke="#1f4a3e" stroke-width="0.6">6.2 x 4.3</text>
<text x="414.8" y="1202.2" font-size="19.3" text-anchor="middle" textLength="61.6" lengthAdjust="spacingAndGlyphs" fill="#1f4a3e" font-weight="bold" stroke="#1f4a3e" stroke-width="0.8">PORCH</text>
<text x="415.3" y="1215.1" font-size="12.2" text-anchor="middle" textLength="44" lengthAdjust="spacingAndGlyphs" fill="#1f4a3e" font-weight="bold" stroke="#1f4a3e" stroke-width="0.6">3.6 x 3.6</text>
<path d="M135.5,1036.5 Q136.5,1041.5 141,1041.5 L141,1037 Z M215.2,1036.5 Q214.2,1041.5 209.7,1041.5 L209.7,1037 Z" fill="#122436" stroke="#122436" stroke-width="1.8"/>
<path d="M153,936.3 H197 Q209.8,937 209.8,952 V1086 Q209.8,1101.5 196,1101.5 H154 Q140.1,1101.5 140.1,1086 V952 Q140.1,937 153,936.3 Z" fill="#e9e9eb" stroke="#5a606e" stroke-width="1.1"/>
<path d="M154,938.8 H196 Q207.4,939.5 207.4,953 V1085 Q207.4,1099 195.5,1099 H154.5 Q142.5,1099 142.5,1085 V953 Q142.5,939.5 154,938.8 Z" fill="none" stroke="#8d929c" stroke-width="0.8"/>
<path d="M156,947.5 H195.4 Q200.7,947.5 200.7,953.4 Q200.7,959.4 195.4,959.4 H156 Q150.7,959.4 150.7,953.4 Q150.7,947.5 156,947.5 Z" fill="none" stroke="#5a606e" stroke-width="1.1"/>
<path d="M145,953 L156,969.2 M205,953 L194.4,969.2 M162.9,968.5 V964.3 H190.2 V968.5 M146,944 Q175,941 204,944" fill="none" stroke="#5a606e" stroke-width="0.9"/>
<path d="M155.9,969.2 H194.4 V1029.4 H155.9 Z" fill="none" stroke="#5a606e" stroke-width="1.1"/>
<path d="M158,969.2 V1029.4 M192.3,969.2 V1029.4" fill="none" stroke="#8d929c" stroke-width="0.8"/>
<path d="M144.2,966 Q148.5,997 145.5,1029 M205.7,966 Q201.4,997 204.4,1029 M144.5,993 Q150,990 155.9,993 M205.4,993 Q200,990 194.4,993" fill="none" stroke="#5a606e" stroke-width="0.8"/>
<path d="M145.7,997 L155.9,996 M204.2,997 L194.4,996" fill="none" stroke="#8d929c" stroke-width="0.8"/>
<path d="M152.4,1030.8 H198.6 L202.1,1051.8 Q175,1047 148.2,1051.8 Z" fill="none" stroke="#5a606e" stroke-width="1.1"/>
<path d="M145.5,1053 Q175,1066 204.5,1053" fill="none" stroke="#5a606e" stroke-width="1.1"/>
<path d="M146,1056 Q144.5,1075 147,1094 Q175,1098 203,1094 Q205.5,1075 204,1056" fill="none" stroke="#8d929c" stroke-width="0.8"/>
<path d="M149,1029 L145,1053 M201,1029 L205,1053" fill="none" stroke="#8d929c" stroke-width="0.8"/>
<circle cx="166.7" cy="1064.4" r="0.9" fill="#5a606e"/><circle cx="184.6" cy="1064.4" r="0.9" fill="#5a606e"/>
<path d="M232.5,1036 Q233,1044 239,1044.5 L239,1039 Z M327.2,1036 Q326.7,1044 320.7,1044.5 L320.7,1039 Z" fill="#122436" stroke="#122436" stroke-width="1.8"/>
<path d="M260,918.3 H299 Q321.1,919 321.1,943 V1097 Q321.1,1119.9 299,1119.9 H260 Q238.1,1119.9 238.1,1097 V943 Q238.1,919 260,918.3 Z" fill="#e9e9eb" stroke="#5a606e" stroke-width="1.1"/>
<path d="M261,920.8 H298 Q318.6,921.5 318.6,944 V1096 Q318.6,1117.4 298,1117.4 H261 Q240.6,1117.4 240.6,1096 V944 Q240.6,921.5 261,920.8 Z" fill="none" stroke="#8d929c" stroke-width="0.8"/>
<path d="M243.8,940 V1095 M315.4,940 V1095" fill="none" stroke="#8d929c" stroke-width="0.8"/>
<path d="M256.6,957.5 V943 Q256.6,931.3 268,931.3 H291 Q302.3,931.3 302.3,943 V957.5 Q279.5,961 256.6,957.5 Z" fill="none" stroke="#5a606e" stroke-width="1.1"/>
<path d="M256.6,957.5 L257.5,1029.3 Q279.5,1038 301.5,1029.3 L302.3,957.5" fill="none" stroke="#5a606e" stroke-width="1.1"/>
<path d="M252.5,928 Q248,960 252.5,1033 M306.5,928 Q311,960 306.5,1033" fill="none" stroke="#5a606e" stroke-width="0.9"/>
<path d="M243.5,958 Q250,962 252.5,972 M315.5,958 Q309,962 306.5,972" fill="none" stroke="#5a606e" stroke-width="0.9"/>
<path d="M243.5,1001 L252.5,997 M243.5,1004.5 L252.5,1000.5 M315.5,1001 L306.5,997 M315.5,1004.5 L306.5,1000.5" fill="none" stroke="#5a606e" stroke-width="0.8"/>
<path d="M252.5,1033 L247.6,1069 Q279.5,1080 311.3,1069 L306.5,1033" fill="none" stroke="#5a606e" stroke-width="1.1"/>
<path d="M247.6,1072 Q279.5,1086 311.3,1072 M267.2,1080 L272,1112 M290.9,1080 L286,1112 M267.2,1080 H290.9" fill="none" stroke="#5a606e" stroke-width="0.9"/>
<path d="M245.5,1060 Q243,1095 254,1112 M313.5,1060 Q316,1095 305,1112 M252,1114.5 Q279.5,1119 307,1114.5" fill="none" stroke="#5a606e" stroke-width="0.8"/>
<path d="M249,1040 L244,1075 M310,1040 L315,1075" fill="none" stroke="#8d929c" stroke-width="0.8"/>
<path d="M464.3,246 L501.6,222.7" fill="none" stroke="#122436" stroke-width="3" />
<path d="M501.6,222.7 A44.0,44.0 0 0 1 508.1,246" fill="none" stroke="#122436" stroke-width="1.6" />
<rect x="462.5" y="242.5" width="5.0" height="7.0" rx="0" fill="none" stroke="#122436" stroke-width="1.6" />
<rect x="507" y="242.5" width="5" height="7.0" rx="0" fill="none" stroke="#122436" stroke-width="1.6" />
<path d="M513,357 L538,320" fill="none" stroke="#122436" stroke-width="2.6" />
<path d="M538,320 A44.7,44.7 0 0 0 512,314.5" fill="none" stroke="#122436" stroke-width="1.6" />
<rect x="512" y="356" width="5.5" height="15" fill="#122436" />
<path d="M513,371 L538,408" fill="none" stroke="#122436" stroke-width="2.6" />
<path d="M538,408 A44.7,44.7 0 0 1 512,414" fill="none" stroke="#122436" stroke-width="1.6" />
<rect x="512" y="411" width="5.5" height="8" fill="#122436" />
<line x1="537.6" y1="216" x2="537.6" y2="303" stroke="#122436" stroke-width="1.1"/>
<rect x="539.6" y="216" width="6.2" height="87" fill="#122436" />
<rect x="542.2" y="220" width="1.0" height="79" fill="#000" />
<line x1="517.7" y1="278.4" x2="537.6" y2="278.4" stroke="#122436" stroke-width="1.6"/>
<rect x="517.7" y="302.7" width="28.3" height="6.8" fill="#122436" />
<rect x="512" y="419" width="33.2" height="6.6" fill="#122436" />
<rect x="512" y="419" width="5.6" height="93" fill="#122436" />
<line x1="538.6" y1="425.6" x2="538.6" y2="512" stroke="#122436" stroke-width="1.1"/>
<rect x="539.4" y="425.6" width="6.6" height="86.4" fill="#122436" />
<rect x="542.2" y="429" width="1.0" height="79" fill="#000" />
<line x1="517.6" y1="452" x2="538.6" y2="452" stroke="#122436" stroke-width="1.6"/>
<path d="M514.3,522.3 L496.5,538 L512.2,543.4 L496.5,549.4 L514.3,563.4" fill="none" stroke="#122436" stroke-width="2.8" />
<path d="M516,579.6 L537.6,615.3" fill="none" stroke="#8a8f99" stroke-width="2.2" />
<path d="M537.6,615.3 A41.7,41.7 0 0 1 516,621.3" fill="none" stroke="#8a8f99" stroke-width="1.0" />
<path d="M514.8,793.9 L537.3,759.5" fill="none" stroke="#8a8f99" stroke-width="2.2" />
<path d="M537.3,759.5 A41.1,41.1 0 0 0 516,754.2" fill="none" stroke="#8a8f99" stroke-width="1.0" />
<path d="M668.2,794 L645.7,759.5" fill="none" stroke="#8a8f99" stroke-width="2.2" />
<path d="M645.7,759.5 A41.2,41.2 0 0 1 666.9,754.2" fill="none" stroke="#8a8f99" stroke-width="1.0" />
<path d="M512.2,866.6 L538.6,903.6" fill="none" stroke="#122436" stroke-width="2.6" />
<path d="M538.6,903.6 A45.5,45.5 0 0 1 514.8,908.9" fill="none" stroke="#122436" stroke-width="1.6" />
<path d="M457,924.5 L435.5,959 L455.8,963.6 L435.5,969.4 L457,1003.5" fill="none" stroke="#122436" stroke-width="2.8" />
<path d="M387.8,1108.9 L418.9,1076.7" fill="none" stroke="#122436" stroke-width="3" />
<path d="M418.9,1076.7 A44.8,44.8 0 0 1 432.2,1108.9" fill="none" stroke="#122436" stroke-width="1.6" />
<path d="M93.7,843.6 L129,865.4" fill="none" stroke="#122436" stroke-width="2.6" />
<path d="M129,865.4 A41.5,41.5 0 0 0 134.9,843.6" fill="none" stroke="#122436" stroke-width="1.6" />
<path d="M369.4,853.6 L349.6,889.3" fill="none" stroke="#122436" stroke-width="2.6" />
<path d="M349.6,889.3 A40.8,40.8 0 0 0 369.4,893.3" fill="none" stroke="#122436" stroke-width="1.6" />
<rect x="613.7" y="136.2" width="21.1" height="54.8" rx="0" fill="none" stroke="#122436" stroke-width="1.5" />
<line x1="613.7" y1="162.6" x2="634.8" y2="162.6" stroke="#122436" stroke-width="1.5"/>
<rect x="663" y="884.5" width="12" height="102.2" fill="#122436" />
<rect x="670" y="886.5" width="5" height="98.2" fill="#000" />
<rect x="675" y="884.5" width="2" height="102.2" fill="#122436" />
<rect x="670" y="884.5" width="7" height="2.0" fill="#122436" />
<rect x="670" y="984.7" width="7" height="2.0" fill="#122436" />
<rect x="664.3" y="889.5" width="1.3" height="44.0" fill="#000" />
<rect x="667.6" y="889.5" width="1.5" height="44.0" fill="#000" />
<rect x="664.3" y="937.5" width="1.3" height="46.2" fill="#000" />
<rect x="667.6" y="937.5" width="1.5" height="46.2" fill="#000" />
<rect x="514" y="202" width="2" height="21" fill="#000" />
</svg>
</body></html>
